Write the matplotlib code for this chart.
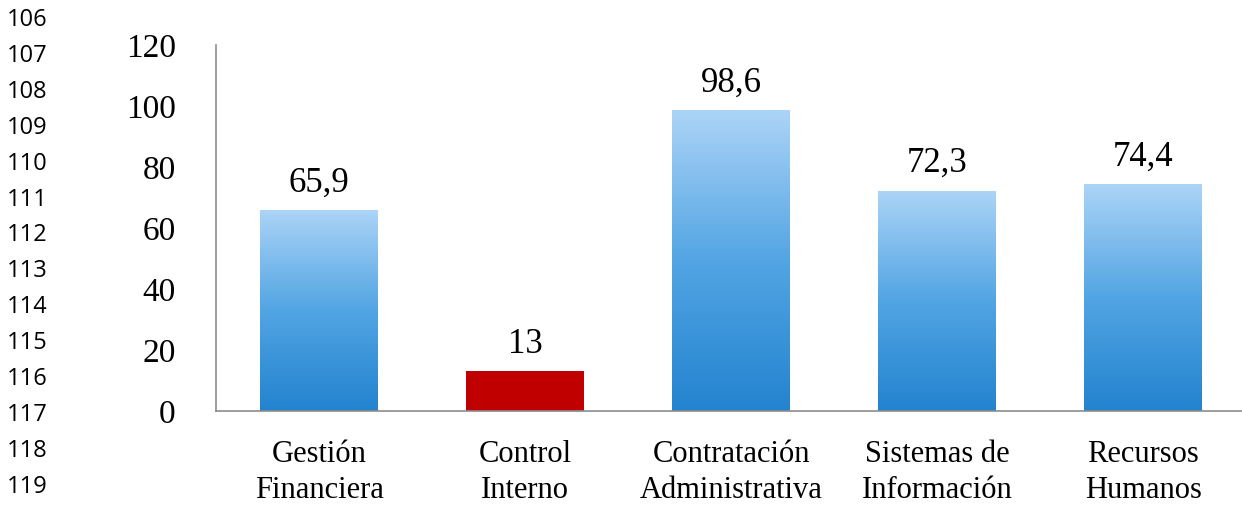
import matplotlib
matplotlib.use("Agg")
import matplotlib.pyplot as plt
import numpy as np

########################################################################
# Chart data.
categories = ["Gestión\nFinanciera", "Control\nInterno", "Contratación\nAdministrativa",
              "Sistemas de\nInformación", "Recursos\nHumanos"]
values = [65.9, 13, 98.6, 72.3, 74.4]
value_labels = ["65,9", "13", "98,6", "72,3", "74,4"]
yticks = [0, 20, 40, 60, 80, 100, 120]
line_numbers = [106, 107, 108, 109, 110, 111, 112, 113, 114, 115, 116, 117, 118, 119, 120]
red_bar = 1

SERIF = ["Liberation Serif", "DejaVu Serif"]

fig = plt.figure(figsize=(12.42, 5.12), dpi=100)
ax = fig.add_axes([0.174, 0.197, 0.826, 0.715])

# Blue gradient: light at top, darker at bottom.
grad = np.linspace(0, 1, 256).reshape(-1, 1)
cmap = matplotlib.colors.LinearSegmentedColormap.from_list(
    "bluegrad", ["#2383CF", "#52A5E3", "#ACD4F7"])

x = np.arange(len(categories))
bars = ax.bar(x, values, width=0.57, color="#4A9FE0", zorder=2)
for i, (b, v) in enumerate(zip(bars, values)):
    if i == red_bar:
        b.set_facecolor("#C00000")
    else:
        b.set_facecolor("none")
        im = ax.imshow(grad, cmap=cmap, aspect="auto", origin="lower",
                       extent=[b.get_x(), b.get_x() + b.get_width(), 0, v], zorder=2)
        im.set_clip_path(b)
    ax.text(b.get_x() + b.get_width() / 2, v + 3.5, value_labels[i],
            ha="center", va="bottom", fontsize=25, family=SERIF)

ax.set_xlim(-0.5, 4.48)
ax.set_ylim(0, 120)
ax.set_yticks(yticks)
ax.set_yticklabels([str(t) for t in yticks], fontsize=24, family=SERIF)
ax.set_xticks(x)
ax.set_xticklabels(categories, fontsize=22, family=SERIF, linespacing=1.32)
ax.tick_params(axis="both", length=0)
ax.tick_params(axis="y", pad=29)
ax.tick_params(axis="x", pad=21)
for s in ["top", "right"]:
    ax.spines[s].set_visible(False)
for s in ["left", "bottom"]:
    ax.spines[s].set_color("#8C8C8C")
    ax.spines[s].set_linewidth(1.2)

# Document line numbers down the left margin.
for k, n in enumerate(line_numbers):
    ypix = 20 + k * 35.9
    fig.text(7 / 1242, 1 - ypix / 512, str(n), ha="left", va="center",
             fontsize=17, family=["Open Sans", "DejaVu Sans"])

fig.savefig("out.png", dpi=100)
